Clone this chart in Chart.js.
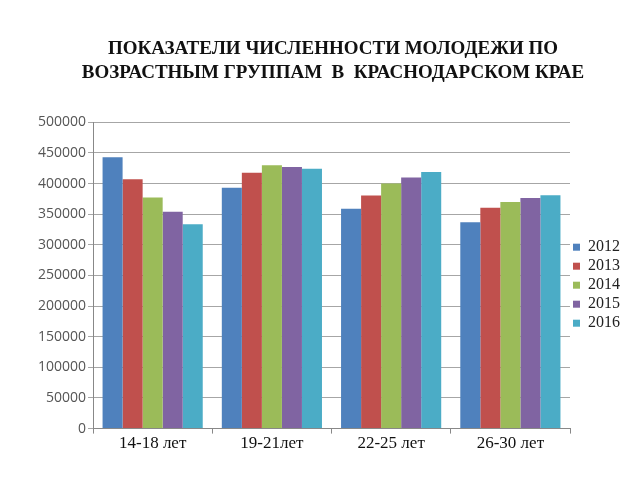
<!DOCTYPE html>
<html>
<head>
<meta charset="utf-8">
<style>
  html, body { margin: 0; padding: 0; background: #fff; }
  #wrap { width: 640px; height: 480px; }
</style>
</head>
<body>
<div id="wrap"><canvas id="youthChart"></canvas></div>

<script src="https://cdn.jsdelivr.net/npm/chart.js"></script>
<script>
  // Age groups and yearly values (people)
  const groups = ['14-18 лет', '19-21лет', '22-25 лет', '26-30 лет'];
  const years = ['2012', '2013', '2014', '2015', '2016'];
  const v2012 = [443000, 393000, 359000, 337000];
  const v2013 = [407000, 417500, 380500, 360500];
  const v2014 = [377000, 430000, 400000, 370000];
  const v2015 = [354000, 427000, 410000, 376500];
  const v2016 = [333500, 424000, 419000, 381000];
  const colors = ['#4F81BD', '#C0504D', '#9BBB59', '#8064A2', '#4BACC6'];

  const series = [v2012, v2013, v2014, v2015, v2016];

  const ctx = document.getElementById('youthChart').getContext('2d');
  new Chart(ctx, {
    type: 'bar',
    data: {
      labels: groups,
      datasets: series.map((vals, i) => ({
        label: years[i],
        data: vals,
        backgroundColor: colors[i],
        borderWidth: 0,
        barPercentage: 1,
        categoryPercentage: 0.84
      }))
    },
    options: {
      responsive: true,
      maintainAspectRatio: false,
      animation: false,
      layout: { padding: { left: 36, right: 10, top: 0, bottom: 26 } },
      plugins: {
        title: {
          display: true,
          text: ['ПОКАЗАТЕЛИ ЧИСЛЕННОСТИ МОЛОДЕЖИ ПО', 'ВОЗРАСТНЫМ ГРУППАМ  В  КРАСНОДАРСКОМ КРАЕ'],
          color: '#111',
          font: { family: '"Liberation Serif", serif', size: 19, weight: 'bold', lineHeight: 1.27 },
          padding: { top: 37, bottom: 37 }
        },
        legend: {
          position: 'right',
          // empty title only pushes the items down to where the reference has them
          title: { display: true, text: '', font: { size: 12 }, padding: { top: 50, bottom: 52 } },
          labels: {
            color: '#222',
            boxWidth: 7,
            boxHeight: 7,
            padding: 3,
            font: { family: '"Liberation Serif", serif', size: 16 }
          }
        },
        tooltip: { enabled: false }
      },
      scales: {
        x: {
          grid: { display: true, drawOnChartArea: false, offset: true, tickLength: 5, color: '#888' },
          border: { color: '#888' },
          ticks: {
            color: '#111',
            font: { family: '"Liberation Serif", serif', size: 17 },
            padding: 0
          }
        },
        y: {
          min: 0,
          max: 500000,
          grid: { color: '#a6a6a6', tickLength: 5 },
          border: { color: '#888' },
          ticks: {
            stepSize: 50000,
            color: '#555',
            font: { family: '"Open Sans", sans-serif', size: 14 },
            padding: 2,
            callback: v => String(v)
          }
        }
      }
    }
  });
</script>
</body>
</html>
